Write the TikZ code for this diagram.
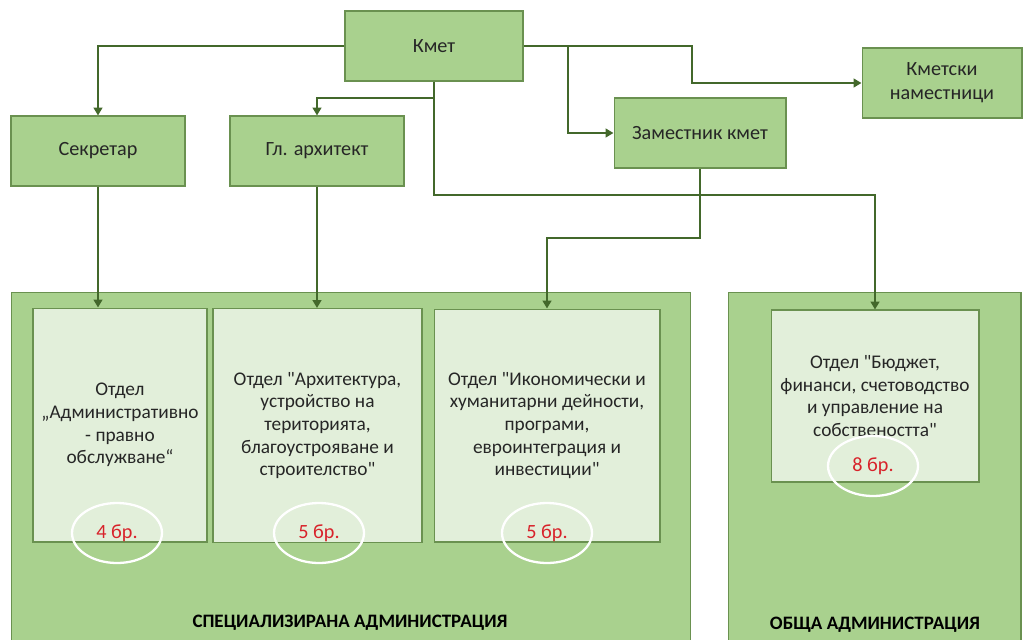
\documentclass[tikz,border=0pt]{standalone}
\usepackage{fontspec}
\setmainfont{Carlito}[Ligatures=TeXOff]
\usepackage{tikz}
\usetikzlibrary{positioning,arrows.meta,calc,shapes.geometric}
\definecolor{orgGreen}{HTML}{A9D18E}
\definecolor{orgEdge}{HTML}{6A9150}
\definecolor{orgPale}{HTML}{E2EFDA}
\definecolor{orgLine}{HTML}{43682B}
\definecolor{orgRed}{HTML}{D8222A}
\tikzset{
  orgbox/.style={rectangle, draw=orgEdge, fill=orgGreen, line width=0.6pt,
                 minimum height=1.4cm, align=center, inner sep=2pt,
                 text=black!85, font=\fontsize{11.5pt}{13.6pt}\selectfont},
  orggroup/.style={rectangle, draw=orgEdge, fill=orgGreen, line width=0.6pt},
  orgdept/.style={rectangle, draw=orgEdge, fill=orgPale, line width=0.6pt,
                  align=center, text=black!85, font=\fontsize{11pt}{12.9pt}\selectfont},
  orgcount/.style={ellipse, draw=white, line width=1.3pt, minimum width=1.8cm,
                   minimum height=1.2cm, text=orgRed, font=\fontsize{11.5pt}{13pt}\selectfont},
  orgtitle/.style={font=\fontsize{10.8pt}{12pt}\selectfont\bfseries, text=black},
  orglink/.style={draw=orgLine, line width=1.1pt, -{Triangle[length=4.5pt,width=5pt]}},
}

\begin{document}
\begin{tikzpicture}[x=0.02cm, y=-0.02cm]
  \useasboundingbox (0,0) rectangle (1023,639);
  % top level
  \node[orgbox, minimum width=3.56cm] (kmet) at (434,46) {Кмет};
  \node[orgbox, minimum width=3.48cm] (sec) at (98,151) {Секретар};
  \node[orgbox, minimum width=3.48cm] (arch) at (317,151) {Гл. архитект};
  \node[orgbox, minimum width=3.44cm] (zam) at (700,133) {Заместник кмет};
  \node[orgbox, minimum width=3.2cm] (nam) at (942,83) {Кметски\\наместници};
  % administrations
  \node[orggroup, minimum width=13.6cm, minimum height=7.1cm] (spec) at (351,470) {};
  \node[orggroup, minimum width=5.86cm, minimum height=7.1cm] (gen) at (874.5,470) {};
  \node[orgtitle] (specT) at (350,623) {СПЕЦИАЛИЗИРАНА АДМИНИСТРАЦИЯ};
  \node[orgtitle] (genT) at (875,625) {ОБЩА АДМИНИСТРАЦИЯ};
  % departments
  \node[orgdept, minimum width=3.48cm, minimum height=4.68cm] (d1) at (120,425)
    {Отдел\\„Административно\\- правно\\обслужване“};
  \node[orgdept, minimum width=4.18cm, minimum height=4.68cm] (d2) at (317.5,425.5)
    {Отдел "Архитектура,\\устройство на\\територията,\\благоустрояване и\\строителство"};
  \node[orgdept, minimum width=4.52cm, minimum height=4.66cm] (d3) at (547,425.5)
    {Отдел "Икономически и\\хуманитарни дейности,\\програми,\\евроинтеграция и\\инвестиции"};
  \node[orgdept, minimum width=4.16cm, minimum height=3.44cm] (d4) at (875,396)
    {Отдел "Бюджет,\\финанси, счетоводство\\и управление на\\собствеността"};
  % head counts
  \node[orgcount] (c1) at (117,533) {4 бр.};
  \node[orgcount] (c2) at (319,533) {5 бр.};
  \node[orgcount] (c3) at (547,533) {5 бр.};
  \node[orgcount] (c4) at (873,466) {8 бр.};
  % connectors
  \coordinate (kA) at (434,98);
  \coordinate (kB) at (875,195);
  \coordinate (kC) at (692,46);
  \coordinate (kD) at (568,46);
  \coordinate (zA) at (700,238);
  \draw[orglink] (kmet.west) -| (sec.north);
  \draw[orglink] (kmet.south) -- (kA) -| (arch.north);
  \draw[orglink] (kmet.south) |- (kB) -- (kB |- d4.north);
  \draw[orglink] (kmet.east) -- (kC) |- (nam.west);
  \draw[orglink] (kD) |- (zam.west);
  \draw[orglink] (zam.south) -- (zA) -| (d3.north);
  \draw[orglink] (sec.south) -- (sec.south |- d1.north);
  \draw[orglink] (arch.south) -- (arch.south |- d2.north);
\end{tikzpicture}
\end{document}
